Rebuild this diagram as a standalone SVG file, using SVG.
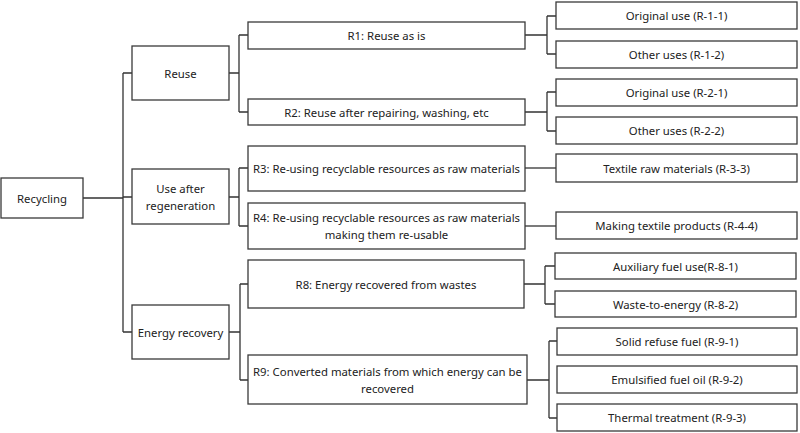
<svg xmlns="http://www.w3.org/2000/svg" width="800" height="433" viewBox="0 0 800 433">
<style>
.box{fill:#fff;stroke:#3a3a3a;stroke-width:1.3}
.t{font-family:"Noto Sans","Open Sans",sans-serif;font-size:11.35px;fill:#222;text-anchor:middle;dominant-baseline:central}
.c{fill:none;stroke:#333;stroke-width:1.3}
</style>
<rect width="800" height="433" fill="#fff"/>
<g id="connectors">
<path class="c" d="M83 198H123M123 73V332M123 73H132M123 197H132M123 332H132"/>
<path class="c" d="M229 73H239M239 35V112M239 35H248M239 112H248"/>
<path class="c" d="M229 197H239M239 168V226M239 168H248M239 226H248"/>
<path class="c" d="M229 332H240M240 284V380M240 284H248M240 380H248"/>
<path class="c" d="M525 35H547M547 16V54M547 16H556M547 54H556"/>
<path class="c" d="M525 112H547M547 92V131M547 92H556M547 131H556"/>
<path class="c" d="M525 168H556"/>
<path class="c" d="M525 226H556"/>
<path class="c" d="M524 284H545M545 266V304M545 266H555M545 304H555"/>
<path class="c" d="M527 380H549M549 341V418M549 341H557M549 418H557"/>
</g>
<g id="recycling"><rect class="box" x="1" y="178" width="82" height="40"/><text class="t" x="42" y="198">Recycling</text></g>
<g id="reuse"><rect class="box" x="132" y="46" width="97" height="54"/><text class="t" x="180.5" y="73">Reuse</text></g>
<g id="regeneration"><rect class="box" x="132" y="169" width="97" height="55"/><text class="t" x="180.5" y="188">Use after</text><text class="t" x="180.5" y="205">regeneration</text></g>
<g id="energy"><rect class="box" x="132" y="305" width="97" height="54"/><text class="t" x="180.5" y="332">Energy recovery</text></g>
<g id="r1"><rect class="box" x="248" y="22" width="277" height="27"/><text class="t" x="386.5" y="35">R1: Reuse as is</text></g>
<g id="r2"><rect class="box" x="248" y="99" width="277" height="26"/><text class="t" x="386.5" y="112">R2: Reuse after repairing, washing, etc</text></g>
<g id="r3"><rect class="box" x="248" y="146" width="277" height="45"/><text class="t" x="386.5" y="168">R3: Re-using recyclable resources as raw materials</text></g>
<g id="r4"><rect class="box" x="248" y="203" width="277" height="46"/><text class="t" x="386.5" y="217">R4: Re-using recyclable resources as raw materials</text><text class="t" x="386.5" y="234">making  them re-usable</text></g>
<g id="r8"><rect class="box" x="248" y="260" width="276" height="48"/><text class="t" x="386" y="284">R8: Energy recovered from wastes</text></g>
<g id="r9"><rect class="box" x="248" y="355" width="279" height="49"/><text class="t" x="387.5" y="371">R9: Converted materials from which energy can be</text><text class="t" x="387.5" y="388">recovered</text></g>
<g id="r11"><rect class="box" x="556" y="2" width="241" height="27"/><text class="t" x="676.5" y="15.5">Original use (R-1-1)</text></g>
<g id="r12"><rect class="box" x="556" y="41" width="241" height="27"/><text class="t" x="676.5" y="54.5">Other uses (R-1-2)</text></g>
<g id="r21"><rect class="box" x="556" y="79" width="241" height="27"/><text class="t" x="676.5" y="92.5">Original use (R-2-1)</text></g>
<g id="r22"><rect class="box" x="556" y="117" width="241" height="27"/><text class="t" x="676.5" y="130.5">Other uses (R-2-2)</text></g>
<g id="r33"><rect class="box" x="556" y="154" width="241" height="28"/><text class="t" x="676.5" y="168">Textile raw materials (R-3-3)</text></g>
<g id="r44"><rect class="box" x="556" y="212" width="241" height="27"/><text class="t" x="676.5" y="225.5">Making textile products (R-4-4)</text></g>
<g id="r81"><rect class="box" x="555" y="253" width="241" height="26"/><text class="t" x="675.5" y="266">Auxiliary fuel use(R-8-1)</text></g>
<g id="r82"><rect class="box" x="555" y="291" width="241" height="26"/><text class="t" x="675.5" y="304">Waste-to-energy (R-8-2)</text></g>
<g id="r91"><rect class="box" x="557" y="328" width="240" height="27"/><text class="t" x="677" y="341.5">Solid refuse fuel (R-9-1)</text></g>
<g id="r92"><rect class="box" x="557" y="366" width="240" height="27"/><text class="t" x="677" y="379.5">Emulsified fuel oil (R-9-2)</text></g>
<g id="r93"><rect class="box" x="557" y="404" width="240" height="27"/><text class="t" x="677" y="417.5">Thermal treatment (R-9-3)</text></g>
</svg>
